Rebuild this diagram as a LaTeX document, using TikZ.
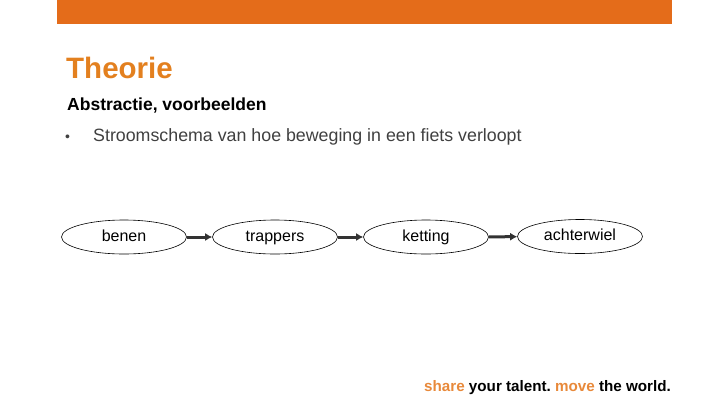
\documentclass[tikz,border=0pt]{standalone}
\usepackage{fontspec}
\setmainfont{Liberation Sans}
\usetikzlibrary{shapes.geometric,arrows.meta}
\definecolor{barorange}{HTML}{E46C1A}
\definecolor{titleorange}{HTML}{E3801F}
\definecolor{footorange}{HTML}{E8893A}
\definecolor{bodygray}{HTML}{404040}
\definecolor{arrowgray}{HTML}{333333}
\tikzset{
  flow/.style={ellipse,draw=black,line width=0.6pt,minimum width=125pt,minimum height=34pt,inner sep=0pt,text height=11pt,text depth=3pt,font=\fontsize{16}{19}\selectfont,text=black},
  conn/.style={draw=arrowgray,line width=3pt,-{Latex[length=7pt,width=8pt]}},
  txt/.style={inner sep=0pt,anchor=base west}
}
\begin{document}
\frenchspacing
\begin{tikzpicture}[x=1pt,y=-1pt]
\useasboundingbox (0,0) rectangle (720,405);
\fill[barorange] (57,0) rectangle (672,24);
\node[txt,text=titleorange,font=\bfseries\fontsize{29.5}{34}\selectfont] (title) at (66,78) {Theorie};
\node[txt,font=\bfseries\fontsize{17.5}{20}\selectfont] (sub) at (67,110.5) {Abstractie, voorbeelden};
\node[txt,text=bodygray,font=\fontsize{14}{16}\selectfont] (bullet) at (65,141.5) {•};
\node[txt,text=bodygray,font=\fontsize{17.8}{21}\selectfont] (line) at (93,141.5) {Stroomschema van hoe beweging in een fiets verloopt};
\node[flow] (benen) at (124,237) {benen};
\node[flow] (trappers) at (275,237) {trappers};
\node[flow] (ketting) at (426,237) {ketting};
\node[flow] (achter) at (580,236.5) {achterwiel};
\draw[conn] (benen) -- (trappers);
\draw[conn] (trappers) -- (ketting);
\draw[conn] (ketting) -- (achter);
\node[txt,font=\bfseries\fontsize{15.2}{18}\selectfont] (foot) at (424,391) {\textcolor{footorange}{share} your talent. \textcolor{footorange}{move} the world.};
\end{tikzpicture}
\end{document}
